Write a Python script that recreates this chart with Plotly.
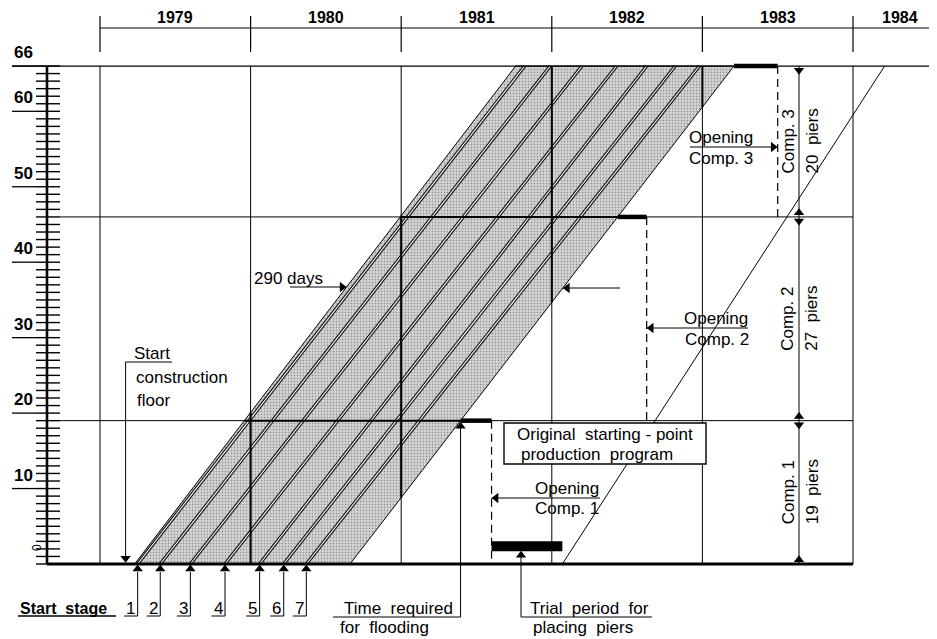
import plotly.graph_objects as go

# values
years = [1979, 1980, 1981, 1982, 1983, 1984]
year_labels = ['1979', '1980', '1981', '1982', '1983', '1984']
pier_ticks = list(range(0, 67))
pier_labels = [10, 20, 30, 40, 50, 60, 66]

comp_bounds = [0, 19, 46, 66]
comp_names = ['Comp. 1', 'Comp. 2', 'Comp. 3']
comp_piers = ['19  piers', '27  piers', '20  piers']

band_left = [1979.23, 1981.76]     # date at pier 0 and at pier 66
band_right = [1980.66, 1983.21]

stage_no = ['1', '2', '3', '4', '5', '6', '7']
stage_start = [1979.25, 1979.40, 1979.60, 1979.83, 1980.06, 1980.22, 1980.37]
stage_end = [1981.82, 1981.99, 1982.20, 1982.43, 1982.63, 1982.82, 1982.98]

opening_date = [1981.60, 1982.63, 1983.50]
trial_dates = [1981.60, 1982.07]
trial_piers = [1.7, 3.0]
original_dates = [1982.07, 1984.21]
original_piers = [0, 66]
floor_start = 1979.17

# page geometry (page pixel -> axis units), only for placing the drawing furniture
# the html body has an 8px margin, so the figure is shifted by that much
OFF = 8
W, H = 937 - OFF, 639 - OFF
def X(px):
    return 1979 + (px - 100) / 150.6
def Y(py):
    return (564 - py) / 7.545

TOP = comp_bounds[-1]
FONT = 'Liberation Sans, Arial, sans-serif'

def band_x(edge, level):
    return edge[0] + (edge[1] - edge[0]) * level / TOP

shapes = []
def seg(x0, y0, x1, y1, w=1.0, dash='solid'):
    shapes.append(dict(type='line', xref='x', yref='y', x0=x0, y0=y0, x1=x1, y1=y1,
                       line=dict(color='black', width=w, dash=dash), layer='above'))

annotations = []
def txt(x, y, s, size=17, xanchor='left', yanchor='middle', bold=False, angle=0):
    annotations.append(dict(x=x, y=y, xref='x', yref='y', text=s, showarrow=False,
                            xanchor=xanchor, yanchor=yanchor, textangle=angle,
                            font=dict(family=FONT, size=size, color='black',
                                      weight='bold' if bold else 'normal')))

heads = {'x': [], 'y': [], 's': []}
def head(x, y, sym):
    heads['x'].append(x)
    heads['y'].append(y)
    heads['s'].append(sym)

fig = go.Figure()

# shaded production band
fig.add_trace(go.Scatter(
    x=[band_left[0], band_right[0], band_right[1], band_left[1], band_left[0]],
    y=[0, 0, TOP, TOP, 0], mode='lines', fill='toself',
    line=dict(color='black', width=1),
    fillcolor='#c4c4c4',
    fillpattern=dict(shape='.', size=3, solidity=0.3, fgcolor='#555555', bgcolor='#d8d8d8'),
    hoverinfo='skip'))

# stage lines (double lines)
for s0, s1 in zip(stage_start, stage_end):
    fig.add_trace(go.Scatter(x=[s0, s1], y=[0, TOP], mode='lines',
                             line=dict(color='#111111', width=3.4), hoverinfo='skip'))
    fig.add_trace(go.Scatter(x=[s0, s1], y=[0, TOP], mode='lines',
                             line=dict(color='white', width=1.1), hoverinfo='skip'))

# original starting-point production program
fig.add_trace(go.Scatter(x=original_dates, y=original_piers, mode='lines',
                         line=dict(color='black', width=1), hoverinfo='skip'))

# left pier scale: ticks
tx, ty = [], []
for p in pier_ticks:
    tx += [X(36), X(60), None]
    ty += [p, p, None]
fig.add_trace(go.Scatter(x=tx, y=ty, mode='lines', line=dict(color='black', width=1.4),
                         hoverinfo='skip'))
seg(X(47), 0, X(47), TOP, 2.6)
for p in pier_labels:
    seg(X(12), p, X(36), p, 1.3)
    txt(X(12), p + 0.25, str(p), size=17, yanchor='bottom', bold=True)
txt(X(37), Y(548), '0', size=12, xanchor='center', angle=-90)

# header with years
seg(years[0], Y(28), X(937), Y(28), 1.2)
for yr, lab in zip(years, year_labels):
    seg(yr, Y(16), yr, Y(52), 1.2)
    txt(min(yr + 0.5, X(900)), Y(17), lab, size=16, xanchor='center', bold=True)

# grid
seg(X(12), TOP, X(935), TOP, 1.2)
for yr in years:
    seg(yr, 0, yr, TOP, 1)
    lo = max(0, (yr - band_right[0]) * TOP / (band_right[1] - band_right[0]))
    hi = min(TOP, (yr - band_left[0]) * TOP / (band_left[1] - band_left[0]))
    if hi > lo:
        seg(yr, lo, yr, hi, 2)
for lv in comp_bounds[1:-1]:
    seg(X(60), lv, years[-1], lv, 1)
    seg(band_x(band_left, lv), lv, band_x(band_right, lv), lv, 2)
seg(X(47), 0, years[-1], 0, 2.8)

# flooding bars and opening lines
for i, lv in enumerate(comp_bounds[1:]):
    seg(band_x(band_right, lv), lv, opening_date[i], lv, 4.5)
    seg(opening_date[i], lv, opening_date[i], comp_bounds[i], 1.2, '8px,5px')

# trial period bar
shapes.append(dict(type='rect', xref='x', yref='y', x0=trial_dates[0], x1=trial_dates[1],
                   y0=trial_piers[0], y1=trial_piers[1], fillcolor='black',
                   line=dict(width=0), layer='above'))

# opening labels
seg(X(600), Y(498), opening_date[0], Y(498), 1)
head(opening_date[0] + 0.03, Y(498), 'triangle-left')
txt(X(567), Y(488), 'Opening', xanchor='center')
txt(X(567), Y(508), 'Comp. 1', xanchor='center')

seg(X(748), Y(328), opening_date[1], Y(328), 1)
head(opening_date[1] + 0.03, Y(328), 'triangle-left')
txt(X(716), Y(318), 'Opening', xanchor='center')
txt(X(717), Y(339), 'Comp. 2', xanchor='center')

seg(X(690), Y(147), opening_date[2], Y(147), 1)
head(opening_date[2] - 0.03, Y(147), 'triangle-right')
txt(X(721), Y(137), 'Opening', xanchor='center')
txt(X(721), Y(158), 'Comp. 3', xanchor='center')

# loose arrow towards right edge of band
bx = band_x(band_right, Y(288))
seg(X(620), Y(288), bx, Y(288), 1)
head(bx + 0.03, Y(288), 'triangle-left')

# 290 days
bx = band_x(band_left, Y(287))
txt(X(288), Y(278), '290 days', xanchor='center')
seg(X(290), Y(287), bx, Y(287), 1)
head(bx - 0.03, Y(287), 'triangle-right')

# start construction floor
txt(X(132), Y(353), 'Start')
seg(floor_start, Y(362), X(172), Y(362), 1)
seg(floor_start, Y(362), floor_start, 0.8, 1)
head(floor_start, 0.75, 'triangle-down')
txt(X(134), Y(377), 'construction')
txt(X(135), Y(400), 'floor')

# start stages
txt(X(18), Y(608), 'Start  stage', size=16, bold=True)
seg(X(18), Y(616), X(116), Y(616), 1.3)
for n, s0 in zip(stage_no, stage_start):
    txt(s0 - 0.045, Y(608), n, size=17, xanchor='center')
    seg(s0 - 0.09, Y(616), s0, Y(616), 1)
    seg(s0, Y(616), s0, Y(572), 1)
    head(s0, Y(569), 'triangle-up')

# time required for flooding
fx = band_x(band_right, comp_bounds[1])
txt(fx - 0.04, Y(608), 'Time  required', xanchor='right')
txt(X(338), Y(627), 'for  flooding')
seg(X(333), Y(617), fx, Y(617), 1)
seg(fx, Y(617), fx, comp_bounds[1] - 0.8, 1)
head(fx, comp_bounds[1] - 0.75, 'triangle-up')

# trial period for placing piers
tpx = X(521)
txt(X(528), Y(608), 'Trial  period  for')
txt(X(531), Y(627), 'placing  piers')
seg(tpx, Y(617), X(652), Y(617), 1)
seg(tpx, Y(617), tpx, trial_piers[0] - 0.6, 1)
head(tpx, trial_piers[0] - 0.55, 'triangle-up')

# box
shapes.append(dict(type='rect', xref='x', yref='y', x0=X(504), x1=X(706), y0=Y(464), y1=Y(423),
                   fillcolor='white', line=dict(color='black', width=1.4), layer='above'))
txt(X(605), Y(434), 'Original  starting - point', xanchor='center')
txt(X(597), Y(454), 'production  program', xanchor='center')

# dimension line for compartments
dx = X(799)
seg(dx, 0, dx, TOP, 1)
for i, lv in enumerate(comp_bounds):
    if i > 0:
        head(dx, lv - 0.55, 'triangle-down')
    if i < len(comp_bounds) - 1:
        head(dx, lv + 0.55, 'triangle-up')
for i in range(3):
    mid = (comp_bounds[i] + comp_bounds[i + 1]) / 2
    txt(X(788), mid, comp_names[i], xanchor='center', angle=-90)
    txt(X(812), mid, comp_piers[i], xanchor='center', angle=-90)

fig.add_trace(go.Scatter(x=heads['x'], y=heads['y'], mode='markers',
                         marker=dict(symbol=heads['s'], size=9, color='black', line=dict(width=0)),
                         hoverinfo='skip'))

fig.update_layout(
    width=W, height=H, margin=dict(l=0, r=0, t=0, b=0),
    paper_bgcolor='white', plot_bgcolor='white', showlegend=False,
    xaxis=dict(range=[X(OFF), X(OFF + W)], visible=False, fixedrange=True),
    yaxis=dict(range=[Y(OFF + H), Y(OFF)], visible=False, fixedrange=True),
    shapes=shapes, annotations=annotations,
    font=dict(family=FONT, color='black'))

fig.write_html('out.html')
